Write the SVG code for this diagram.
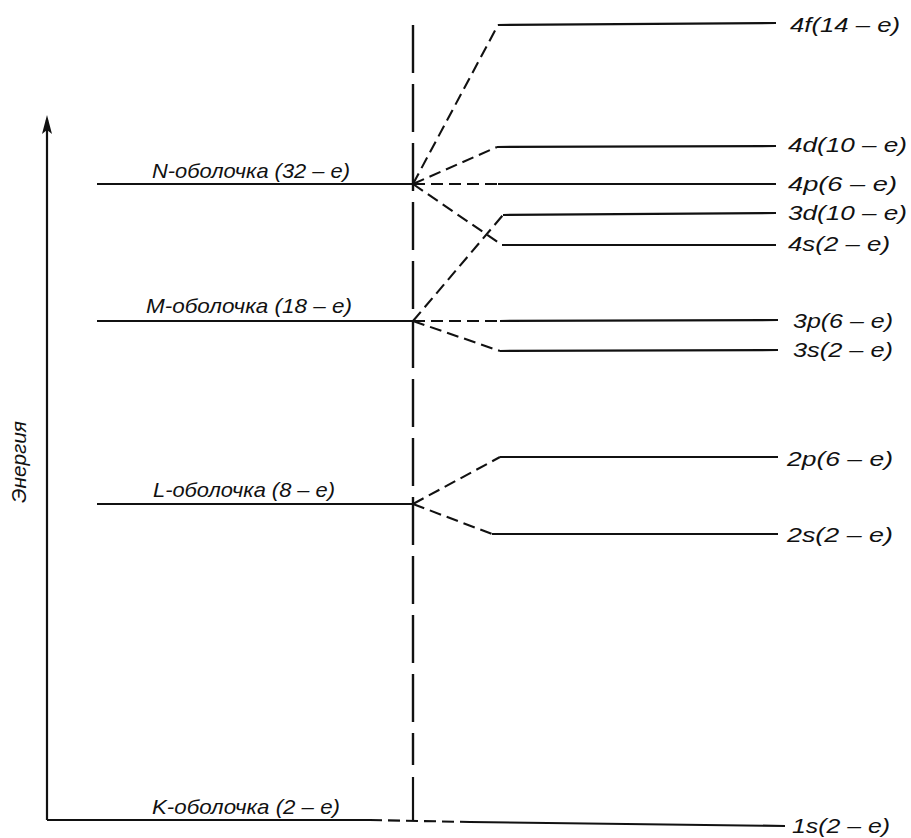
<svg xmlns="http://www.w3.org/2000/svg" width="911" height="838" viewBox="0 0 911 838">
<style>
.s{stroke:#111;stroke-width:2.2;fill:none}
.d{stroke:#111;stroke-width:2.1;fill:none;stroke-dasharray:12 6}
.v{stroke:#111;stroke-width:2.4;fill:none;stroke-dasharray:48 11}
.t{font-family:"Liberation Sans",Arial,sans-serif;font-style:italic;font-size:21px;fill:#111}
.l{font-family:"Liberation Sans",Arial,sans-serif;font-style:italic;font-size:20px;fill:#111}
</style>
<rect width="911" height="838" fill="#fff"/>
<g id="axis">
<line class="s" x1="47" y1="820" x2="47" y2="120"/>
<path d="M42,134 L47,115 L52,134 L47,130 Z" fill="#111"/>
<text class="l" transform="translate(26,462) rotate(-90)" text-anchor="middle" textLength="82" lengthAdjust="spacingAndGlyphs">Энергия</text>
</g>
<g id="connectors">
<line class="v" x1="413" y1="25" x2="413" y2="765"/>
<line class="s" x1="413" y1="777" x2="413" y2="821"/>
<line class="d" x1="413" y1="184" x2="498" y2="25"/>
<line class="d" x1="413" y1="184" x2="497" y2="147"/>
<line class="d" x1="413" y1="184" x2="498" y2="184"/>
<line class="d" x1="413" y1="184" x2="502" y2="245"/>
<line class="d" x1="413" y1="321" x2="503" y2="215"/>
<line class="d" x1="413" y1="321" x2="500" y2="321"/>
<line class="d" x1="413" y1="321" x2="500" y2="351"/>
<line class="d" x1="413" y1="504" x2="500" y2="457"/>
<line class="d" x1="413" y1="504" x2="492" y2="534"/>
<line class="d" x1="370" y1="820" x2="470" y2="822"/>
</g>
<g id="shell-N">
<line class="s" x1="97" y1="184" x2="413" y2="184"/>
<text class="t" x="152" y="178" textLength="198" lengthAdjust="spacingAndGlyphs">N-оболочка (32 – e)</text>
</g>
<g id="shell-M">
<line class="s" x1="97" y1="321" x2="413" y2="321"/>
<text class="t" x="146" y="313" textLength="206" lengthAdjust="spacingAndGlyphs">M-оболочка (18 – e)</text>
</g>
<g id="shell-L">
<line class="s" x1="97" y1="504" x2="413" y2="504"/>
<text class="t" x="153" y="497" textLength="182" lengthAdjust="spacingAndGlyphs">L-оболочка (8 – e)</text>
</g>
<g id="shell-K">
<line class="s" x1="47" y1="820" x2="370" y2="820"/>
<text class="t" x="152" y="814" textLength="188" lengthAdjust="spacingAndGlyphs">K-оболочка (2 – e)</text>
</g>
<g id="level-4f">
<line class="s" x1="498" y1="25" x2="776" y2="23"/>
<text class="t" x="790" y="32" textLength="110" lengthAdjust="spacingAndGlyphs">4f(14 – e)</text>
</g>
<g id="level-4d">
<line class="s" x1="497" y1="147" x2="776" y2="146"/>
<text class="t" x="788" y="152" textLength="119" lengthAdjust="spacingAndGlyphs">4d(10 – e)</text>
</g>
<g id="level-4p">
<line class="s" x1="498" y1="184" x2="776" y2="184"/>
<text class="t" x="788" y="191" textLength="109" lengthAdjust="spacingAndGlyphs">4p(6 – e)</text>
</g>
<g id="level-3d">
<line class="s" x1="503" y1="215" x2="776" y2="213"/>
<text class="t" x="788" y="220" textLength="119" lengthAdjust="spacingAndGlyphs">3d(10 – e)</text>
</g>
<g id="level-4s">
<line class="s" x1="502" y1="245" x2="776" y2="245"/>
<text class="t" x="788" y="251" textLength="102" lengthAdjust="spacingAndGlyphs">4s(2 – e)</text>
</g>
<g id="level-3p">
<line class="s" x1="500" y1="321" x2="778" y2="320"/>
<text class="t" x="793" y="328" textLength="100" lengthAdjust="spacingAndGlyphs">3p(6 – e)</text>
</g>
<g id="level-3s">
<line class="s" x1="500" y1="351" x2="778" y2="350"/>
<text class="t" x="793" y="357" textLength="100" lengthAdjust="spacingAndGlyphs">3s(2 – e)</text>
</g>
<g id="level-2p">
<line class="s" x1="500" y1="457" x2="778" y2="457"/>
<text class="t" x="787" y="466" textLength="106" lengthAdjust="spacingAndGlyphs">2p(6 – e)</text>
</g>
<g id="level-2s">
<line class="s" x1="492" y1="534" x2="778" y2="534"/>
<text class="t" x="787" y="542" textLength="106" lengthAdjust="spacingAndGlyphs">2s(2 – e)</text>
</g>
<g id="level-1s">
<line class="s" x1="470" y1="822" x2="785" y2="826"/>
<text class="t" x="792" y="833" textLength="98" lengthAdjust="spacingAndGlyphs">1s(2 – e)</text>
</g>
</svg>
